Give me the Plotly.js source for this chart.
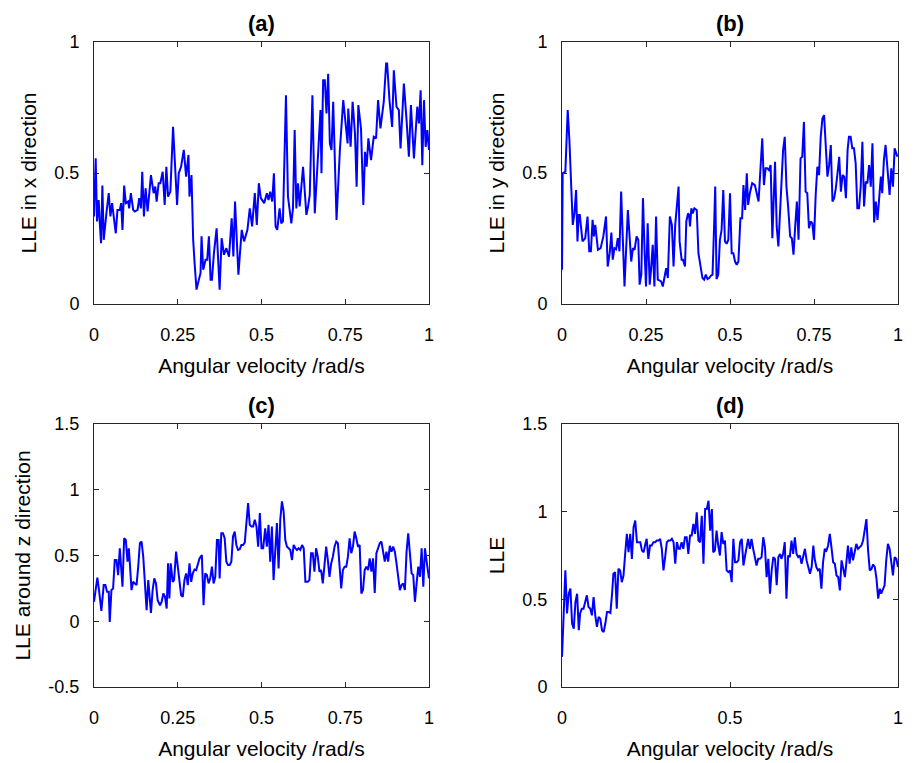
<!DOCTYPE html>
<html>
<head>
<meta charset="utf-8">
<script src="https://cdn.plot.ly/plotly-3.0.1.min.js"></script>
<style>html,body{margin:0;padding:0;background:#fff;}#chart{width:918px;height:763px;}</style>
</head>
<body>
<div id="chart"></div>
<script>
// Panel (a): LLE in x direction
const xA = [0,0.005,0.009,0.014,0.017,0.021,0.025,0.029,0.037,0.044,0.049,0.054,0.065,0.070,0.077,0.081,0.085,0.090,0.095,0.102,0.105,0.110,0.117,0.122,0.130,0.135,0.140,0.144,0.149,0.154,0.160,0.170,0.178,0.183,0.187,0.193,0.198,0.205,0.211,0.216,0.221,0.228,0.236,0.243,0.248,0.253,0.260,0.268,0.275,0.282,0.285,0.291,0.296,0.301,0.306,0.313,0.318,0.321,0.326,0.333,0.338,0.343,0.348,0.352,0.358,0.366,0.375,0.381,0.388,0.395,0.403,0.411,0.416,0.421,0.431,0.441,0.448,0.458,0.465,0.472,0.480,0.486,0.492,0.498,0.508,0.516,0.521,0.526,0.532,0.537,0.542,0.547,0.554,0.559,0.564,0.573,0.579,0.589,0.594,0.599,0.604,0.609,0.614,0.624,0.634,0.639,0.644,0.652,0.659,0.669,0.676,0.679,0.684,0.689,0.694,0.699,0.704,0.709,0.714,0.724,0.734,0.744,0.752,0.757,0.759,0.766,0.772,0.779,0.784,0.789,0.797,0.804,0.809,0.814,0.819,0.827,0.835,0.842,0.848,0.855,0.865,0.872,0.875,0.882,0.890,0.895,0.903,0.910,0.915,0.925,0.933,0.940,0.946,0.955,0.965,0.970,0.975,0.980,0.985,0.990,0.995,1.0];
const yA = [0.334,0.556,0.315,0.397,0.315,0.232,0.452,0.245,0.346,0.423,0.334,0.385,0.270,0.359,0.359,0.385,0.283,0.452,0.385,0.391,0.365,0.423,0.359,0.353,0.359,0.404,0.365,0.505,0.334,0.442,0.353,0.492,0.423,0.448,0.391,0.461,0.461,0.505,0.378,0.524,0.410,0.429,0.676,0.473,0.378,0.499,0.524,0.588,0.486,0.569,0.410,0.492,0.245,0.143,0.055,0.093,0.118,0.258,0.131,0.169,0.169,0.258,0.093,0.093,0.194,0.289,0.055,0.251,0.188,0.213,0.181,0.327,0.181,0.391,0.112,0.283,0.239,0.283,0.365,0.296,0.423,0.302,0.461,0.404,0.385,0.423,0.397,0.429,0.391,0.499,0.296,0.283,0.365,0.308,0.315,0.797,0.410,0.308,0.365,0.664,0.365,0.461,0.372,0.524,0.340,0.372,0.416,0.797,0.346,0.575,0.740,0.499,0.854,0.854,0.727,0.879,0.613,0.588,0.772,0.321,0.588,0.778,0.676,0.613,0.746,0.600,0.772,0.651,0.448,0.759,0.670,0.378,0.581,0.524,0.632,0.549,0.638,0.632,0.778,0.670,0.772,0.918,0.918,0.778,0.676,0.892,0.753,0.740,0.594,0.841,0.702,0.562,0.759,0.556,0.753,0.689,0.816,0.530,0.778,0.600,0.664,0.588];

// Panel (b): LLE in y direction
const xB = [0,0.002,0.010,0.017,0.022,0.027,0.032,0.037,0.042,0.046,0.050,0.053,0.057,0.061,0.069,0.076,0.081,0.086,0.091,0.095,0.099,0.103,0.107,0.115,0.123,0.131,0.136,0.142,0.147,0.151,0.156,0.161,0.166,0.171,0.176,0.186,0.196,0.206,0.211,0.216,0.222,0.227,0.231,0.236,0.241,0.246,0.250,0.255,0.261,0.265,0.270,0.275,0.280,0.285,0.295,0.300,0.310,0.315,0.321,0.327,0.332,0.337,0.343,0.347,0.350,0.356,0.360,0.366,0.370,0.375,0.378,0.381,0.385,0.389,0.394,0.401,0.406,0.412,0.418,0.423,0.428,0.433,0.438,0.443,0.448,0.452,0.456,0.460,0.465,0.470,0.475,0.480,0.485,0.490,0.495,0.500,0.505,0.510,0.515,0.520,0.525,0.531,0.536,0.540,0.545,0.550,0.554,0.559,0.566,0.574,0.579,0.585,0.591,0.596,0.601,0.606,0.611,0.616,0.621,0.626,0.634,0.639,0.644,0.649,0.653,0.658,0.663,0.668,0.673,0.679,0.684,0.689,0.694,0.699,0.704,0.710,0.715,0.720,0.725,0.730,0.735,0.740,0.745,0.750,0.755,0.760,0.765,0.770,0.775,0.780,0.790,0.795,0.800,0.805,0.810,0.815,0.820,0.825,0.830,0.835,0.840,0.845,0.850,0.854,0.859,0.864,0.869,0.874,0.879,0.884,0.889,0.894,0.899,0.904,0.909,0.914,0.919,0.924,0.929,0.934,0.939,0.944,0.949,0.953,0.958,0.963,0.970,0.975,0.980,0.985,0.990,0.998];
const yB = [0.131,0.499,0.505,0.740,0.626,0.461,0.302,0.346,0.435,0.239,0.340,0.340,0.277,0.239,0.251,0.334,0.201,0.201,0.321,0.258,0.302,0.251,0.207,0.213,0.258,0.334,0.143,0.194,0.273,0.169,0.213,0.209,0.251,0.201,0.429,0.067,0.359,0.162,0.213,0.207,0.258,0.245,0.074,0.112,0.404,0.194,0.067,0.308,0.074,0.131,0.226,0.067,0.334,0.093,0.086,0.067,0.137,0.099,0.334,0.302,0.143,0.302,0.397,0.448,0.239,0.169,0.169,0.143,0.315,0.346,0.340,0.296,0.365,0.346,0.365,0.359,0.194,0.143,0.099,0.093,0.112,0.095,0.099,0.108,0.112,0.270,0.448,0.095,0.112,0.245,0.283,0.435,0.239,0.230,0.245,0.423,0.194,0.194,0.162,0.150,0.162,0.327,0.327,0.454,0.359,0.499,0.378,0.423,0.461,0.454,0.429,0.391,0.524,0.632,0.454,0.518,0.518,0.511,0.530,0.251,0.543,0.296,0.220,0.334,0.448,0.588,0.638,0.448,0.372,0.258,0.251,0.188,0.296,0.391,0.245,0.556,0.562,0.695,0.429,0.423,0.289,0.315,0.308,0.245,0.416,0.524,0.492,0.638,0.708,0.721,0.486,0.530,0.607,0.391,0.404,0.442,0.499,0.562,0.429,0.492,0.486,0.404,0.588,0.638,0.638,0.594,0.594,0.537,0.365,0.365,0.448,0.619,0.372,0.467,0.461,0.530,0.448,0.613,0.311,0.391,0.321,0.416,0.486,0.423,0.549,0.607,0.480,0.416,0.518,0.448,0.594,0.562];

// Panel (c): LLE around z direction
const xC = [0,0.005,0.010,0.015,0.022,0.029,0.034,0.039,0.044,0.047,0.052,0.057,0.062,0.067,0.072,0.077,0.082,0.085,0.090,0.095,0.100,0.104,0.107,0.112,0.117,0.122,0.127,0.132,0.137,0.142,0.147,0.152,0.157,0.162,0.170,0.175,0.180,0.185,0.190,0.197,0.202,0.207,0.212,0.217,0.221,0.225,0.229,0.235,0.239,0.245,0.250,0.255,0.260,0.265,0.270,0.275,0.280,0.285,0.290,0.295,0.300,0.305,0.310,0.315,0.322,0.327,0.332,0.337,0.342,0.347,0.352,0.357,0.362,0.367,0.372,0.375,0.380,0.385,0.390,0.395,0.400,0.405,0.410,0.415,0.420,0.425,0.430,0.435,0.440,0.445,0.450,0.455,0.460,0.465,0.470,0.475,0.480,0.485,0.490,0.495,0.500,0.505,0.511,0.516,0.521,0.526,0.531,0.536,0.541,0.546,0.551,0.556,0.561,0.566,0.571,0.576,0.581,0.586,0.591,0.596,0.601,0.606,0.611,0.616,0.621,0.626,0.631,0.638,0.643,0.648,0.653,0.658,0.663,0.668,0.673,0.678,0.683,0.688,0.693,0.698,0.703,0.708,0.713,0.718,0.723,0.728,0.733,0.738,0.743,0.748,0.753,0.758,0.763,0.768,0.773,0.778,0.783,0.788,0.793,0.798,0.803,0.808,0.813,0.818,0.823,0.828,0.833,0.838,0.843,0.848,0.853,0.858,0.863,0.868,0.873,0.878,0.883,0.888,0.893,0.898,0.903,0.908,0.913,0.918,0.923,0.928,0.933,0.938,0.943,0.948,0.953,0.958,0.963,0.968,0.973,0.978,0.983,0.988,0.993,1.0];
const yC = [0.148,0.249,0.331,0.237,0.079,0.275,0.275,0.224,0.224,-0.005,0.237,0.249,0.466,0.466,0.351,0.555,0.313,0.262,0.631,0.618,0.453,0.555,0.440,0.237,0.300,0.288,0.275,0.415,0.593,0.606,0.491,0.288,0.084,0.313,0.064,0.237,0.326,0.288,0.160,0.122,0.148,0.211,0.186,0.097,0.440,0.173,0.440,0.300,0.313,0.529,0.427,0.288,0.198,0.186,0.313,0.364,0.275,0.440,0.300,0.364,0.394,0.389,0.440,0.478,0.504,0.122,0.364,0.351,0.288,0.326,0.415,0.288,0.338,0.618,0.618,0.326,0.669,0.669,0.631,0.453,0.427,0.427,0.453,0.644,0.682,0.580,0.542,0.547,0.580,0.580,0.598,0.746,0.898,0.733,0.720,0.720,0.771,0.720,0.567,0.822,0.555,0.555,0.707,0.567,0.733,0.453,0.720,0.313,0.542,0.746,0.402,0.771,0.911,0.835,0.618,0.567,0.555,0.542,0.466,0.580,0.555,0.542,0.555,0.542,0.580,0.555,0.300,0.300,0.313,0.517,0.517,0.377,0.555,0.491,0.377,0.389,0.288,0.415,0.567,0.466,0.338,0.440,0.491,0.567,0.606,0.593,0.440,0.249,0.389,0.415,0.415,0.491,0.631,0.517,0.567,0.682,0.631,0.567,0.580,0.211,0.237,0.389,0.415,0.389,0.478,0.377,0.478,0.216,0.517,0.555,0.593,0.606,0.542,0.453,0.529,0.453,0.573,0.529,0.567,0.529,0.440,0.326,0.237,0.275,0.288,0.237,0.529,0.669,0.491,0.364,0.351,0.148,0.288,0.415,0.338,0.555,0.262,0.555,0.453,0.326];

// Panel (d): LLE
const xD = [0,0.005,0.010,0.015,0.020,0.025,0.030,0.035,0.040,0.045,0.050,0.054,0.059,0.064,0.069,0.074,0.079,0.084,0.089,0.094,0.099,0.104,0.109,0.114,0.119,0.124,0.129,0.134,0.139,0.144,0.149,0.153,0.158,0.163,0.168,0.173,0.178,0.183,0.188,0.193,0.198,0.203,0.208,0.213,0.218,0.223,0.228,0.233,0.238,0.243,0.248,0.252,0.257,0.262,0.267,0.272,0.277,0.282,0.287,0.292,0.297,0.302,0.307,0.312,0.317,0.322,0.327,0.332,0.337,0.342,0.347,0.351,0.356,0.361,0.366,0.371,0.376,0.381,0.386,0.391,0.396,0.401,0.406,0.411,0.416,0.421,0.426,0.431,0.436,0.441,0.446,0.450,0.455,0.460,0.465,0.470,0.475,0.480,0.485,0.490,0.495,0.500,0.505,0.510,0.515,0.520,0.525,0.530,0.535,0.540,0.545,0.550,0.554,0.559,0.564,0.569,0.574,0.579,0.584,0.589,0.594,0.599,0.604,0.609,0.614,0.619,0.624,0.629,0.634,0.639,0.644,0.649,0.653,0.658,0.663,0.668,0.673,0.678,0.683,0.688,0.693,0.698,0.703,0.708,0.713,0.718,0.723,0.728,0.733,0.738,0.743,0.748,0.752,0.757,0.762,0.767,0.772,0.777,0.782,0.787,0.792,0.797,0.802,0.807,0.812,0.817,0.822,0.827,0.832,0.837,0.842,0.847,0.851,0.856,0.861,0.866,0.871,0.876,0.881,0.886,0.891,0.896,0.901,0.906,0.911,0.916,0.921,0.926,0.931,0.936,0.941,0.946,0.950,0.955,0.960,0.965,0.970,0.975,0.980,0.985,0.990,0.995,1.0];
const yD = [0.172,0.456,0.665,0.419,0.532,0.561,0.362,0.333,0.485,0.532,0.324,0.419,0.447,0.447,0.494,0.523,0.456,0.447,0.409,0.513,0.409,0.343,0.400,0.390,0.324,0.314,0.362,0.428,0.428,0.422,0.532,0.646,0.655,0.447,0.674,0.665,0.598,0.636,0.759,0.873,0.769,0.873,0.731,0.911,0.949,0.826,0.826,0.826,0.778,0.769,0.816,0.845,0.731,0.807,0.807,0.826,0.826,0.835,0.835,0.845,0.788,0.665,0.741,0.826,0.835,0.835,0.845,0.826,0.703,0.826,0.788,0.788,0.826,0.788,0.854,0.854,0.759,0.864,0.864,0.930,0.873,0.996,0.835,0.826,0.977,0.703,1.015,1.015,1.062,0.892,1.015,0.769,0.778,0.892,0.807,0.750,0.883,0.816,0.835,0.665,0.655,0.665,0.598,0.845,0.712,0.712,0.722,0.826,0.845,0.693,0.750,0.816,0.845,0.788,0.845,0.788,0.741,0.693,0.731,0.731,0.741,0.854,0.797,0.627,0.731,0.532,0.665,0.741,0.731,0.580,0.741,0.759,0.731,0.759,0.826,0.504,0.750,0.741,0.835,0.759,0.854,0.759,0.741,0.750,0.703,0.741,0.788,0.722,0.674,0.646,0.684,0.807,0.731,0.684,0.665,0.674,0.561,0.712,0.788,0.778,0.807,0.873,0.797,0.712,0.703,0.636,0.627,0.551,0.722,0.665,0.627,0.722,0.807,0.703,0.797,0.722,0.769,0.816,0.788,0.797,0.807,0.835,0.902,0.958,0.778,0.665,0.674,0.699,0.684,0.617,0.504,0.561,0.532,0.561,0.580,0.722,0.816,0.788,0.722,0.636,0.741,0.731,0.684];

// Tick labels
const xTickVals4 = [0, 0.25, 0.5, 0.75, 1];
const xTickText4 = ['0', '0.25', '0.5', '0.75', '1'];
const xTickVals2 = [0, 0.5, 1];
const xTickText2 = ['0', '0.5', '1'];
const yTickValsAB = [0, 0.5, 1];
const yTickTextAB = ['0', '0.5', '1'];
const yTickValsC = [-0.5, 0, 0.5, 1, 1.5];
const yTickTextC = ['-0.5', '0', '0.5', '1', '1.5'];
const yTickValsD = [0, 0.5, 1, 1.5];
const yTickTextD = ['0', '0.5', '1', '1.5'];

const panelTitles = ['(a)', '(b)', '(c)', '(d)'];
const xTitle = 'Angular velocity /rad/s';
const yTitles = ['LLE in x direction', 'LLE in y direction', 'LLE around z direction', 'LLE'];

const FONT = 'Liberation Sans, Arial, Helvetica, sans-serif';
const AXC = '#262626';
const W = 918, H = 763;

function trace(x, y, xa, ya) {
  return {x: x, y: y, xaxis: xa, yaxis: ya, type: 'scatter', mode: 'lines',
          line: {color: '#0000ff', width: 2}, hoverinfo: 'skip', showlegend: false};
}

function xax(dom, anchor, tv, tt) {
  return {domain: dom, anchor: anchor, range: [0, 1], tickmode: 'array', tickvals: tv, ticktext: tt,
          ticks: 'inside', ticklen: 5, tickwidth: 1, tickcolor: AXC, showline: true, linecolor: AXC, linewidth: 1,
          mirror: 'ticks', showgrid: false, zeroline: false, ticklabelstandoff: 14,
          tickfont: {family: FONT, size: 18, color: '#000'},
          title: {text: xTitle, font: {family: FONT, size: 21, color: '#000'}, standoff: 14}};
}
function yax(dom, anchor, rng, tv, tt, title) {
  return {domain: dom, anchor: anchor, range: rng, tickmode: 'array', tickvals: tv, ticktext: tt,
          ticks: 'inside', ticklen: 5, tickwidth: 1, tickcolor: AXC, showline: true, linecolor: AXC, linewidth: 1,
          mirror: 'ticks', showgrid: false, zeroline: false, ticklabelstandoff: 10,
          tickfont: {family: FONT, size: 18, color: '#000'},
          title: {text: title, font: {family: FONT, size: 21, color: '#000'}, standoff: 12}};
}

const dxL = [94 / W, 429 / W];
const dxR = [562 / W, 898 / W];
const dyT = [(H - 304) / H, (H - 42) / H];
const dyB = [(H - 687) / H, (H - 424) / H];

const data = [
  trace(xA, yA, 'x', 'y'),
  trace(xB, yB, 'x2', 'y2'),
  trace(xC, yC, 'x3', 'y3'),
  trace(xD, yD, 'x4', 'y4')
];

const centers = [
  [(dxL[0] + dxL[1]) / 2, dyT[1]],
  [(dxR[0] + dxR[1]) / 2, dyT[1]],
  [(dxL[0] + dxL[1]) / 2, dyB[1]],
  [(dxR[0] + dxR[1]) / 2, dyB[1]]
];

const layout = {
  width: W, height: H, margin: {l: 0, r: 0, t: 0, b: 0},
  paper_bgcolor: '#fff', plot_bgcolor: '#fff', showlegend: false,
  font: {family: FONT, color: '#000'},
  xaxis: xax(dxL, 'y', xTickVals4, xTickText4),
  yaxis: yax(dyT, 'x', [0, 1], yTickValsAB, yTickTextAB, yTitles[0]),
  xaxis2: xax(dxR, 'y2', xTickVals4, xTickText4),
  yaxis2: yax(dyT, 'x2', [0, 1], yTickValsAB, yTickTextAB, yTitles[1]),
  xaxis3: xax(dxL, 'y3', xTickVals4, xTickText4),
  yaxis3: yax(dyB, 'x3', [-0.5, 1.5], yTickValsC, yTickTextC, yTitles[2]),
  xaxis4: xax(dxR, 'y4', xTickVals2, xTickText2),
  yaxis4: yax(dyB, 'x4', [0, 1.5], yTickValsD, yTickTextD, yTitles[3]),
  annotations: panelTitles.map((t, i) => ({
    text: '<b>' + t + '</b>', xref: 'paper', yref: 'paper', x: centers[i][0], y: centers[i][1],
    xanchor: 'center', yanchor: 'bottom', yshift: 4, showarrow: false,
    font: {family: FONT, size: 22, color: '#000'}
  }))
};

Plotly.newPlot('chart', data, layout, {staticPlot: true, displayModeBar: false});
</script>
</body>
</html>
